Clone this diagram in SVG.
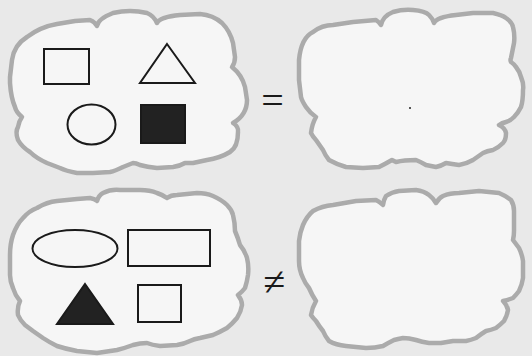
<svg xmlns="http://www.w3.org/2000/svg" width="532" height="356" viewBox="0 0 532 356">
  <style>
    .cloud { fill: #f6f6f6; stroke: #ababab; stroke-width: 4.5; stroke-linejoin: round; }
    .shape { fill: none; stroke: #1a1a1a; stroke-width: 2; }
    .solid { fill: #222222; stroke: #1a1a1a; stroke-width: 2; }
    .sym { font-family: "Liberation Serif", serif; font-size: 40px; fill: #1a1a1a; text-anchor: middle; }
  </style>
  <rect x="0" y="0" width="532" height="356" fill="#e9e9e9"/>

  <g id="cloud-top-left">
    <path class="cloud" d="M10,77 L12,60 Q14,45 27,37 Q40,27 57,24 L75,21 L90,20 Q95,22 97,26 Q98,19 113,13 Q130,9 147,13 Q154,16 157,23 Q160,17 180,15 L200,14 Q213,15 222,23 Q230,31 233,43 L235,57 Q235,63 232,67 Q242,75 245,87 L247,100 Q247,115 233,123 Q239,127 238,132 Q238,147 230,152 Q220,158 207,160 L193,163 Q188,163 185,163 Q180,166 173,167 L157,168 Q147,167 140,165 Q136,163 133,163 Q128,165 123,167 Q115,171 110,172 L93,173 L77,173 Q66,171 60,168 L47,163 Q36,158 30,152 Q22,147 18,140 Q15,132 18,127 Q19,121 22,117 Q16,112 15,107 Q11,98 10,83 Z"/>
    <rect class="shape" x="44" y="49" width="45" height="35"/>
    <polygon class="shape" points="167,44 195,83 140,83"/>
    <ellipse class="shape" cx="91.5" cy="124.5" rx="24" ry="20"/>
    <rect class="solid" x="141" y="105" width="44" height="38"/>
  </g>

  <g id="cloud-top-right">
    <path class="cloud" d="M299,80 L299,60 Q301,38 313,32 Q322,25 333,25 L353,22 L376,20 Q379,22 381,25 Q383,16 393,12 Q403,9 413,10 Q425,11 429,15 Q433,19 434,23 Q437,17 456,15 L473,13 L493,13 Q502,15 506,18 Q512,22 513,27 Q515,35 514,43 L511,58 Q510,60 511,62 Q514,64 516,67 Q520,72 521,77 Q524,84 523,90 Q523,101 521,107 Q518,113 514,117 Q510,121 506,122 Q502,123 499,125 Q505,128 506,133 Q506,140 503,143 Q498,148 493,150 Q487,151 483,153 L473,160 Q466,164 459,165 Q452,164 446,163 Q441,166 436,167 Q431,166 426,165 Q421,162 416,160 Q404,160 396,162 L392,160 Q385,164 379,167 L363,168 L346,167 Q336,164 329,160 Q325,155 323,150 L316,140 Q313,137 311,133 Q312,124 316,117 Q310,113 306,107 Q302,101 301,97 Z"/>
    <circle cx="410" cy="108" r="1" fill="#222"/>
  </g>

  <g id="cloud-bottom-left">
    <path class="cloud" d="M10,255 Q10,244 13,235 Q17,224 23,218 Q29,211 37,208 Q47,202 57,201 L77,199 L90,198 Q95,199 97,201 Q99,195 103,193 Q111,189 120,190 L140,190 Q150,190 157,193 Q163,195 167,198 Q171,195 177,195 L197,193 Q206,193 213,196 Q222,200 227,205 Q232,210 233,215 Q235,223 235,231 Q238,238 240,245 Q245,251 247,258 Q249,266 248,275 Q247,282 245,288 Q242,292 238,295 Q242,300 242,305 Q241,312 237,318 Q232,324 227,328 Q220,332 213,335 L200,338 Q194,339 190,341 Q184,344 177,345 L160,346 Q152,345 147,343 Q140,343 133,345 Q125,348 117,350 L97,353 L77,351 Q66,349 57,346 Q49,342 43,338 L33,331 L25,325 Q20,320 18,315 Q17,307 20,301 Q15,295 13,288 Q10,281 10,275 Z"/>
    <ellipse class="shape" cx="75" cy="248.5" rx="42.5" ry="18.5"/>
    <rect class="shape" x="128" y="230" width="82" height="36"/>
    <polygon class="solid" points="85,284 113,324 57,324"/>
    <rect class="shape" x="138" y="285" width="43" height="37"/>
  </g>

  <g id="cloud-bottom-right">
    <path class="cloud" d="M299,241 Q300,232 303,225 Q307,216 313,211 Q322,206 333,205 L356,201 L376,200 Q380,202 383,205 Q384,199 386,196 Q392,192 399,191 L416,190 Q424,191 429,195 Q433,198 436,203 Q439,198 443,196 Q450,193 459,193 L479,191 L499,193 Q506,196 511,200 Q514,205 514,211 L514,231 Q514,236 513,240 Q516,244 519,248 Q522,254 523,261 L523,278 Q522,285 519,291 Q516,295 513,298 Q508,300 503,301 Q507,305 508,310 Q507,316 504,321 Q500,325 496,328 Q491,330 486,331 Q481,334 476,338 Q471,340 466,341 L453,341 L441,343 Q435,343 429,343 Q422,342 416,340 Q409,338 403,338 Q398,339 394,340 Q388,343 383,346 Q375,348 366,348 L346,346 Q336,345 329,341 Q325,336 323,331 Q319,326 316,321 Q313,318 311,315 Q312,308 316,301 Q312,295 309,288 Q305,283 303,278 Q299,270 299,261 Z"/>
  </g>

  <g id="relations">
    <text class="sym" x="272.5" y="114">=</text>
    <text class="sym" x="274.5" y="295">≠</text>
  </g>
</svg>
